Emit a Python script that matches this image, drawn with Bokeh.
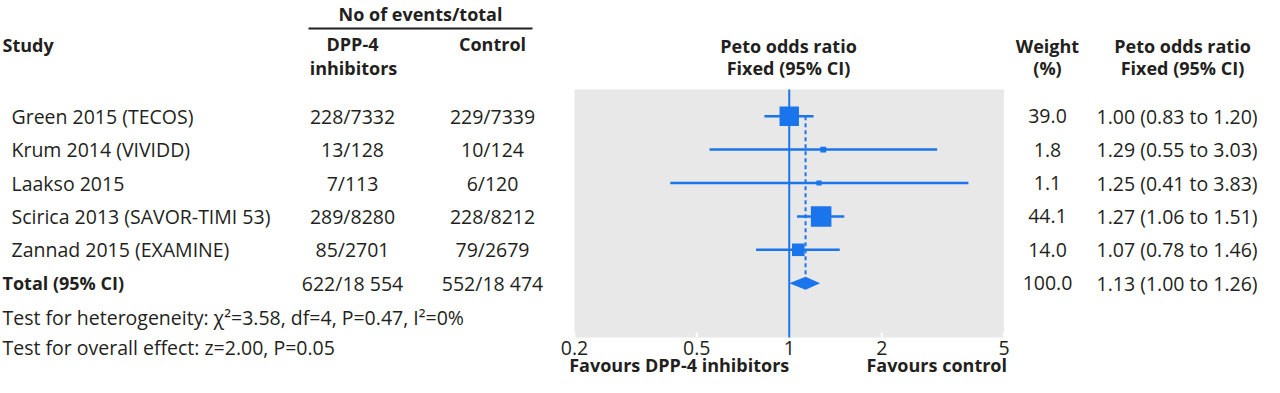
import math
from bokeh.plotting import figure
from bokeh.models import Range1d, LogScale
from bokeh.core.properties import value
from bokeh.embed import file_html
from bokeh.resources import INLINE

# ---------------- data ----------------
studies = ["Green 2015 (TECOS)", "Krum 2014 (VIVIDD)", "Laakso 2015",
           "Scirica 2013 (SAVOR-TIMI 53)", "Zannad 2015 (EXAMINE)"]
dpp_events = ["228/7332", "13/128", "7/113", "289/8280", "85/2701"]
control_events = ["229/7339", "10/124", "6/120", "228/8212", "79/2679"]
weights = [39.0, 1.8, 1.1, 44.1, 14.0]
or_est = [1.00, 1.29, 1.25, 1.27, 1.07]
ci_low = [0.83, 0.55, 0.41, 1.06, 0.78]
ci_high = [1.20, 3.03, 3.83, 1.51, 1.46]

total_label = "Total (95% CI)"
total_dpp = "622/18 554"
total_control = "552/18 474"
total_weight = 100.0
total_or = 1.13
total_low = 1.00
total_high = 1.26

het_text = "Test for heterogeneity: \u03c7\u00b2=3.58, df=4, P=0.47, I\u00b2=0%"
overall_text = "Test for overall effect: z=2.00, P=0.05"

ticks = [0.2, 0.5, 1, 2, 5]
tick_labels = ["0.2", "0.5", "1", "2", "5"]

favours_left = "Favours DPP-4 inhibitors"
favours_right = "Favours control"

# ---------------- layout / style ----------------
W, H = 1264, 377
X0, X1 = 0, W
PANEL_L, PANEL_R = 574, 1003.5
PANEL_T, PANEL_B = 89, 337
OR_MIN, OR_MAX = 0.2, 5.0
ROW0, ROW_STEP = 115.7, 33.4
RIGHT_SHIFT = -14

BLUE = "#1a74ec"
GREY = "#e8e8e8"
INK = "#231f20"
FONT = "Open Sans"
FS = "19.5px"
FSB = "18px"

k = (PANEL_R - PANEL_L) / (math.log10(OR_MAX) - math.log10(OR_MIN))
or_start = 10 ** (math.log10(OR_MIN) - (PANEL_L - X0) / k)
or_end = 10 ** (math.log10(OR_MAX) + (X1 - PANEL_R) / k)

p = figure(width=W, height=H, x_range=Range1d(X0, X1), y_range=Range1d(H, 0),
           output_backend="svg", toolbar_location=None, min_border=0,
           x_axis_location=None, y_axis_location=None, outline_line_color=None)
p.extra_x_ranges = {"or": Range1d(or_start, or_end)}
p.extra_x_scales = {"or": LogScale()}
p.grid.visible = False
p.background_fill_color = "white"
p.border_fill_color = "white"

n = len(studies)
row_y = [ROW0 + ROW_STEP * i for i in range(n)]
total_y = ROW0 + ROW_STEP * n


def txt(x, y, t, align="left", bold=False, size=None, rng="default", x_offset=0):
    if not isinstance(x, list):
        x, y, t = [x], [y], [t]
    p.text(x=x, y=y, text=t, x_range_name=rng, x_offset=x_offset,
           text_font=value(FONT), text_font_size=value(size or (FSB if bold else FS)),
           text_font_style="bold" if bold else "normal",
           text_color=INK, text_align=align, text_baseline="middle")


# panel
p.quad(left=[OR_MIN], right=[OR_MAX], top=[PANEL_T], bottom=[PANEL_B],
       x_range_name="or", fill_color=GREY, line_color=None)
p.segment(x0=ticks, x1=ticks, y0=[PANEL_B] * len(ticks), y1=[PANEL_B - 5] * len(ticks),
          x_range_name="or", line_color="white", line_width=2)
# line of no effect
p.segment(x0=[1], x1=[1], y0=[PANEL_T], y1=[PANEL_B], x_range_name="or",
          line_color=BLUE, line_width=2)
# pooled estimate dashed line
p.segment(x0=[total_or], x1=[total_or], y0=[row_y[0]], y1=[total_y - 6.5], x_range_name="or",
          line_color=BLUE, line_width=2, line_dash="4 3")
# CIs
p.segment(x0=ci_low, x1=ci_high, y0=row_y, y1=row_y, x_range_name="or",
          line_color=BLUE, line_width=2.5)
# boxes
sizes = [2.2 + 2.76 * math.sqrt(w) for w in weights]
p.scatter(x=or_est, y=row_y, size=sizes, marker="square", x_range_name="or",
          fill_color=BLUE, line_color=None)
# diamond
p.patch(x=[total_low, total_or, total_high, total_or],
        y=[total_y, total_y - 6.5, total_y, total_y + 6.5],
        x_range_name="or", fill_color=BLUE, line_color=None)

# headers
txt(420, 13, "No of events/total", align="center", bold=True)
p.segment(x0=[308], x1=[532], y0=[28], y1=[28], line_color=INK, line_width=2)
txt(2, 44, "Study", bold=True)
txt(352, 43, "DPP-4", align="center", bold=True)
txt(353, 67, "inhibitors", align="center", bold=True)
txt(492, 43, "Control", align="center", bold=True)
txt(788, 45, "Peto odds ratio", align="center", bold=True)
txt(788, 67, "Fixed (95% CI)", align="center", bold=True)
txt(1061 + RIGHT_SHIFT, 45, "Weight", align="center", bold=True)
txt(1061 + RIGHT_SHIFT, 67, "(%)", align="center", bold=True)
txt(1196 + RIGHT_SHIFT, 45, "Peto odds ratio", align="center", bold=True)
txt(1196 + RIGHT_SHIFT, 67, "Fixed (95% CI)", align="center", bold=True)

# rows
txt([11] * n, row_y, studies)
txt([352] * n, row_y, dpp_events, align="center")
txt([492] * n, row_y, control_events, align="center")
txt([1061 + RIGHT_SHIFT] * n, row_y, [f"{w:.1f}" for w in weights], align="center")
txt([1110 + RIGHT_SHIFT] * n, row_y,
    [f"{o:.2f} ({l:.2f} to {h:.2f})" for o, l, h in zip(or_est, ci_low, ci_high)])

# total
txt(2, total_y, total_label, bold=True)
txt(352, total_y, total_dpp, align="center")
txt(492, total_y, total_control, align="center")
txt(1061 + RIGHT_SHIFT, total_y, f"{total_weight:.1f}", align="center")
txt(1110 + RIGHT_SHIFT, total_y, f"{total_or:.2f} ({total_low:.2f} to {total_high:.2f})")

# tests
txt(2, 317, het_text)
txt(2, 347, overall_text)

# axis labels
txt(ticks, [347] * len(ticks), tick_labels, align="center", rng="or")
txt(1, 364, favours_left, align="right", bold=True, rng="or")
txt(OR_MAX, 364, favours_right, align="right", bold=True, rng="or", x_offset=3)

open("out.html", "w").write(file_html(p, INLINE))
